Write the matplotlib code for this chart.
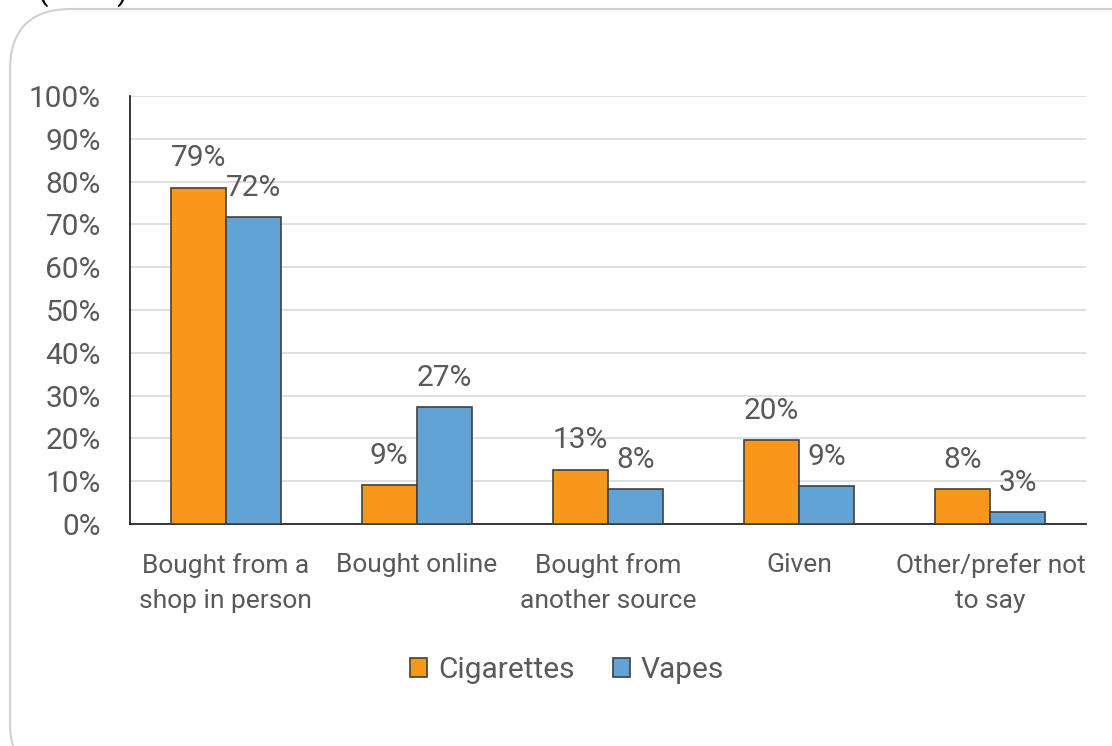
import matplotlib.pyplot as plt
import numpy as np
from matplotlib.patches import FancyBboxPatch

categories = ["Bought from a\nshop in person", "Bought online", "Bought from\nanother source",
              "Given", "Other/prefer not\nto say"]
cigarettes = [78.6, 9.0, 12.7, 19.7, 8.2]
vapes = [71.8, 27.3, 8.2, 8.8, 2.8]
cig_labels = ["79%", "9%", "13%", "20%", "8%"]
vape_labels = ["72%", "27%", "8%", "9%", "3%"]

plt.rcParams['font.family'] = ['Roboto', 'DejaVu Sans']
grey = '#595959'
fs = 19
fs_big = 21.5

fig = plt.figure(figsize=(11.12, 7.46), dpi=100)
W, H = 1112, 746

# rounded chart border, running off the right and bottom edges
box = FancyBboxPatch((10 / W, -0.05), 1.2, 1 - 9 / H + 0.05,
                     boxstyle="round,pad=0,rounding_size=0.055",
                     transform=fig.transFigure, fc='white', ec='#d0d0d0', lw=1.5,
                     mutation_aspect=W / H, zorder=-5)
fig.patches.append(box)
fig.text(38 / W, 1 - 7 / H, "(2016)", fontsize=22, color='black', va='bottom', ha='left', zorder=5)

ax = fig.add_axes([130 / W, 1 - 524 / H, (1086 - 130) / W, (524 - 96) / H])
ax.set_zorder(2)
x = np.arange(len(categories))
w = 0.288
b1 = ax.bar(x - w / 2, cigarettes, w, color='#F7981D', edgecolor='#404040', lw=1.2, label='Cigarettes', zorder=3)
b2 = ax.bar(x + w / 2, vapes, w, color='#61A3D4', edgecolor='#404040', lw=1.2, label='Vapes', zorder=3)
for bars, labels in [(b1, cig_labels), (b2, vape_labels)]:
    for rect, lab in zip(bars, labels):
        ax.annotate(lab, (rect.get_x() + rect.get_width() / 2, rect.get_height()),
                    xytext=(0, 21), textcoords='offset points',
                    ha='center', va='center', fontsize=fs_big, color=grey)

ax.set_xlim(-0.5, len(categories) - 0.5)
ax.set_ylim(0, 100)
ax.set_yticks(np.arange(0, 101, 10))
ax.set_yticklabels([f"{v}%" for v in range(0, 101, 10)])
ax.set_xticks(x)
ax.set_xticklabels(categories, linespacing=1.55)
ax.tick_params(axis='both', length=0, labelcolor=grey)
ax.tick_params(axis='x', pad=21, labelsize=fs)
ax.tick_params(axis='y', pad=21, labelsize=fs_big)
ax.grid(axis='y', color='#d9d9d9', lw=1.2, zorder=0)
for s in ['top', 'right']:
    ax.spines[s].set_visible(False)
ax.spines['left'].set_color('#262626')
ax.spines['bottom'].set_color('#262626')
ax.spines['left'].set_linewidth(1.3)
ax.spines['bottom'].set_linewidth(1.3)
ax.set_facecolor('none')

leg = fig.legend(handles=[b1, b2], loc='center', bbox_to_anchor=(567 / W, 1 - 670 / H), ncol=2,
                 frameon=False, fontsize=fs_big, handlelength=0.57, handleheight=0.57,
                 handletextpad=0.37, columnspacing=1.27, labelcolor=grey)

fig.savefig('out.png', dpi=100)
